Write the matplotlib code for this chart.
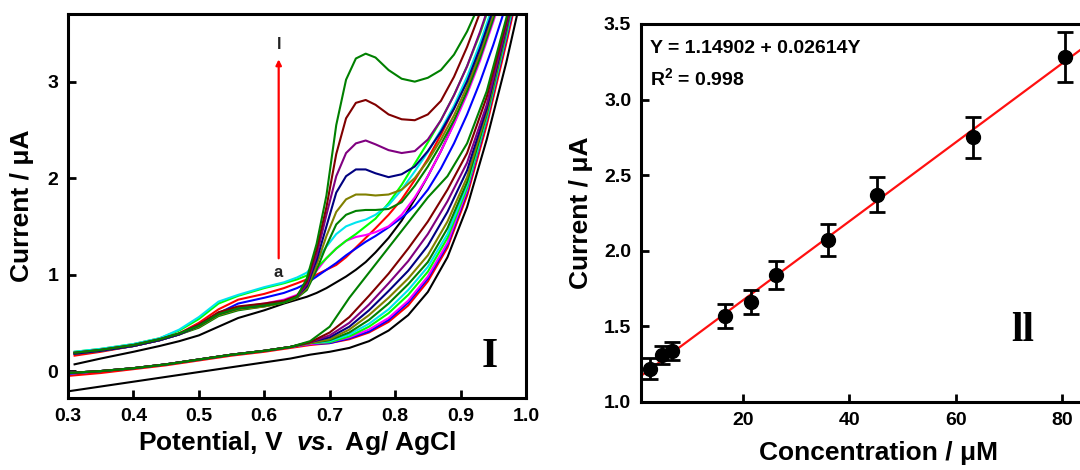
import numpy as np
import matplotlib
matplotlib.use("Agg")
import matplotlib.pyplot as plt

plt.rcParams['font.family'] = ['Liberation Sans', 'DejaVu Sans']
plt.rcParams['font.weight'] = 'bold'
plt.rcParams['mathtext.fontset'] = 'custom'
plt.rcParams['mathtext.rm'] = 'Liberation Sans:bold'
plt.rcParams['mathtext.it'] = 'Liberation Sans:italic:bold'
plt.rcParams['mathtext.bf'] = 'Liberation Sans:bold'

# ---- panel I : cyclic voltammograms (a -> l) ----
labels = ['a', 'b', 'c', 'd', 'e', 'f', 'g', 'h', 'i', 'j', 'k', 'l']
colors = ['#000000', '#FF0000', '#0000FF', '#FF00FF', '#00FF00', '#00E5EE',
          '#008000', '#808000', '#000080', '#800080', '#800000', '#008000']

E_fwd = [0.31, 0.35, 0.40, 0.44, 0.47, 0.50, 0.53, 0.56, 0.60, 0.63, 0.65, 0.665,
         0.68, 0.695, 0.71, 0.725, 0.74, 0.755, 0.77, 0.79, 0.81, 0.83, 0.85, 0.87,
         0.89, 0.91, 0.93, 0.95, 0.97, 0.99]
fwd_a = [0.07, 0.13, 0.20, 0.26, 0.31, 0.37, 0.46, 0.55, 0.63, 0.70, 0.74, 0.77, 0.81, 0.86, 0.92,
         0.98, 1.05, 1.13, 1.23, 1.38, 1.56, 1.78, 2.02, 2.28, 2.57, 2.90, 3.26, 3.66, 4.10, 4.60]
fwd_b = [0.16, 0.20, 0.26, 0.32, 0.39, 0.50, 0.64, 0.74, 0.80, 0.86, 0.91, 0.95, 1.00, 1.05, 1.10,
         1.18, 1.28, 1.38, 1.48, 1.62, 1.78, 1.98, 2.20, 2.45, 2.72, 3.02, 3.38, 3.78, 4.20, 4.70]
fwd_c = [0.18, 0.21, 0.26, 0.32, 0.38, 0.48, 0.60, 0.70, 0.76, 0.81, 0.86, 0.91, 0.98, 1.05, 1.12,
         1.20, 1.27, 1.34, 1.40, 1.49, 1.59, 1.71, 1.88, 2.10, 2.36, 2.66, 3.00, 3.38, 3.80, 4.25]
fwd_d = [0.18, 0.21, 0.26, 0.32, 0.38, 0.47, 0.59, 0.66, 0.70, 0.74, 0.79, 0.89, 1.04, 1.17, 1.27,
         1.35, 1.39, 1.41, 1.44, 1.50, 1.62, 1.80, 2.02, 2.28, 2.56, 2.87, 3.22, 3.62, 4.05, 4.50]
fwd_e = [0.20, 0.23, 0.28, 0.34, 0.42, 0.54, 0.70, 0.78, 0.86, 0.91, 0.95, 0.99, 1.07, 1.17, 1.27,
         1.35, 1.42, 1.50, 1.58, 1.74, 1.93, 2.15, 2.37, 2.60, 2.86, 3.16, 3.50, 3.90, 4.30, 4.80]
fwd_f = [0.20, 0.23, 0.28, 0.34, 0.43, 0.56, 0.72, 0.79, 0.87, 0.92, 0.97, 1.02, 1.14, 1.29, 1.42,
         1.50, 1.54, 1.57, 1.62, 1.72, 1.88, 2.07, 2.27, 2.50, 2.75, 3.05, 3.40, 3.80, 4.25, 4.70]
fwd_g = [0.18, 0.21, 0.26, 0.32, 0.38, 0.45, 0.57, 0.63, 0.67, 0.71, 0.76, 0.84, 1.05, 1.30, 1.52,
         1.62, 1.66, 1.67, 1.67, 1.68, 1.75, 1.92, 2.12, 2.35, 2.60, 2.90, 3.25, 3.65, 4.10, 4.55]
fwd_h = [0.18, 0.21, 0.26, 0.32, 0.38, 0.46, 0.58, 0.64, 0.67, 0.71, 0.76, 0.86, 1.10, 1.40, 1.65,
         1.78, 1.83, 1.83, 1.82, 1.83, 1.88, 2.00, 2.18, 2.40, 2.65, 2.95, 3.30, 3.70, 4.10, 4.60]
fwd_i = [0.18, 0.21, 0.26, 0.32, 0.38, 0.47, 0.59, 0.65, 0.68, 0.72, 0.77, 0.88, 1.15, 1.50, 1.85,
         2.02, 2.09, 2.09, 2.05, 2.01, 2.04, 2.12, 2.28, 2.48, 2.72, 3.00, 3.35, 3.75, 4.20, 4.70]
fwd_j = [0.19, 0.22, 0.27, 0.33, 0.39, 0.48, 0.60, 0.66, 0.69, 0.72, 0.77, 0.90, 1.20, 1.62, 2.02,
         2.26, 2.36, 2.39, 2.35, 2.29, 2.26, 2.28, 2.40, 2.60, 2.86, 3.16, 3.52, 3.92, 4.35, 4.80]
fwd_k = [0.19, 0.22, 0.27, 0.33, 0.39, 0.48, 0.61, 0.67, 0.70, 0.73, 0.78, 0.93, 1.26, 1.70, 2.25,
         2.62, 2.78, 2.81, 2.76, 2.66, 2.61, 2.60, 2.66, 2.80, 3.05, 3.36, 3.72, 4.10, 4.50, 5.00]
fwd_l = [0.19, 0.22, 0.27, 0.33, 0.39, 0.47, 0.59, 0.65, 0.68, 0.71, 0.77, 0.96, 1.32, 1.82, 2.55,
         3.02, 3.24, 3.29, 3.25, 3.12, 3.03, 3.00, 3.04, 3.12, 3.28, 3.52, 3.82, 4.20, 4.60, 5.00]

E_rev = [0.30, 0.35, 0.40, 0.45, 0.50, 0.55, 0.60, 0.64, 0.67, 0.70, 0.73, 0.76, 0.79, 0.82,
         0.85, 0.88, 0.91, 0.94, 0.97, 1.00]
rev_a = [-0.21, -0.16, -0.11, -0.06, -0.01, 0.04, 0.09, 0.13, 0.17, 0.20, 0.24, 0.31, 0.42, 0.58,
         0.82, 1.18, 1.70, 2.40, 3.20, 4.10]
rev_b = [-0.05, -0.02, 0.02, 0.06, 0.11, 0.16, 0.20, 0.24, 0.27, 0.29, 0.33, 0.40, 0.51, 0.68,
         0.93, 1.28, 1.82, 2.55, 3.40, 4.30]
rev_c = [-0.03, 0.00, 0.03, 0.07, 0.12, 0.17, 0.21, 0.25, 0.28, 0.29, 0.34, 0.41, 0.53, 0.71,
         0.96, 1.31, 1.86, 2.60, 3.45, 4.35]
rev_d = [-0.02, 0.00, 0.03, 0.07, 0.12, 0.17, 0.21, 0.25, 0.28, 0.30, 0.35, 0.43, 0.55, 0.73,
         0.98, 1.33, 1.88, 2.62, 3.48, 4.40]
rev_e = [-0.02, 0.00, 0.03, 0.07, 0.12, 0.17, 0.21, 0.25, 0.29, 0.30, 0.36, 0.46, 0.60, 0.79,
         1.03, 1.38, 1.90, 2.62, 3.48, 4.40]
rev_f = [-0.02, 0.00, 0.03, 0.07, 0.12, 0.17, 0.21, 0.25, 0.29, 0.31, 0.38, 0.49, 0.64, 0.84,
         1.08, 1.42, 1.93, 2.64, 3.50, 4.40]
rev_g = [-0.02, 0.00, 0.03, 0.07, 0.12, 0.17, 0.21, 0.25, 0.29, 0.32, 0.40, 0.53, 0.70, 0.90,
         1.13, 1.48, 1.96, 2.66, 3.52, 4.45]
rev_h = [-0.02, 0.00, 0.03, 0.07, 0.12, 0.17, 0.21, 0.25, 0.29, 0.33, 0.43, 0.58, 0.76, 0.96,
         1.20, 1.55, 2.01, 2.68, 3.54, 4.45]
rev_i = [-0.02, 0.00, 0.03, 0.07, 0.12, 0.17, 0.21, 0.25, 0.30, 0.35, 0.46, 0.63, 0.83, 1.04,
         1.30, 1.65, 2.08, 2.72, 3.56, 4.50]
rev_j = [-0.02, 0.00, 0.03, 0.07, 0.12, 0.17, 0.21, 0.25, 0.30, 0.37, 0.50, 0.69, 0.91, 1.14,
         1.42, 1.76, 2.16, 2.76, 3.58, 4.50]
rev_k = [-0.02, 0.00, 0.03, 0.07, 0.12, 0.17, 0.21, 0.25, 0.30, 0.40, 0.56, 0.78, 1.01, 1.27,
         1.55, 1.88, 2.26, 2.84, 3.62, 4.55]
rev_l = [-0.02, 0.00, 0.03, 0.07, 0.12, 0.17, 0.21, 0.25, 0.31, 0.46, 0.76, 1.02, 1.28, 1.54,
         1.80, 2.02, 2.36, 2.90, 3.66, 4.60]

fwd = [fwd_a, fwd_b, fwd_c, fwd_d, fwd_e, fwd_f, fwd_g, fwd_h, fwd_i, fwd_j, fwd_k, fwd_l]
rev = [rev_a, rev_b, rev_c, rev_d, rev_e, rev_f, rev_g, rev_h, rev_i, rev_j, rev_k, rev_l]

# ---- panel II : calibration ----
conc = [2.6, 4.8, 6.7, 16.7, 21.5, 26.2, 36.0, 45.2, 63.3, 80.5]
current = [1.22, 1.31, 1.34, 1.57, 1.66, 1.84, 2.07, 2.37, 2.75, 3.28]
current_err = [0.07, 0.06, 0.06, 0.08, 0.08, 0.09, 0.105, 0.115, 0.135, 0.165]
fit_intercept = 1.14902
fit_slope = 0.02614

fig = plt.figure(figsize=(10.8, 4.7), dpi=100)

ax1 = fig.add_axes([0.063, 0.153, 0.424, 0.817])
for i in range(len(labels)):
    ax1.plot(E_fwd, fwd[i], color=colors[i], lw=1.5)
    ax1.plot(E_rev, rev[i], color=colors[i], lw=1.5)
ax1.set_xlim(0.3, 1.0)
ax1.set_ylim(-0.28, 3.70)
ax1.set_xticks([0.3, 0.4, 0.5, 0.6, 0.7, 0.8, 0.9, 1.0])
ax1.set_yticks([0, 1, 2, 3])
ax1.set_xlabel('Potential, V  $\\it{vs.}$ Ag/ AgCl', fontsize=19, fontweight='bold', labelpad=3)
ax1.set_ylabel('Current / μA', fontsize=19, fontweight='bold', labelpad=10)
ax1.annotate('', xy=(0.622, 3.26), xytext=(0.622, 1.14),
             arrowprops=dict(arrowstyle='-|>', color='red', lw=1.6, mutation_scale=8))
ax1.text(0.622, 3.38, 'l', ha='center', va='center', fontsize=12, color='#222222')
ax1.text(0.621, 1.02, 'a', ha='center', va='center', fontsize=12, color='#222222')
ax1.text(0.945, 0.15, 'I', ha='center', va='center', fontsize=30, fontweight='bold',
         family='Liberation Serif')

ax2 = fig.add_axes([0.5935, 0.1447, 0.4395, 0.8043])
ax2.errorbar(conc, current, yerr=current_err, fmt='o', color='black', ms=10,
             elinewidth=2, capsize=6, capthick=2, zorder=3)
xfit = np.array([0.9, 90])
ax2.plot(xfit, fit_intercept + fit_slope * xfit, color='#FF1010', lw=1.6, zorder=2)
ax2.set_xlim(0.9, 90)
ax2.set_ylim(1.0, 3.5)
ax2.set_xticks([20, 40, 60, 80])
ax2.set_yticks([1.0, 1.5, 2.0, 2.5, 3.0, 3.5])
ax2.set_yticklabels(['1.0', '1.5', '2.0', '2.5', '3.0', '3.5'])
ax2.set_xlabel('Concentration / μM', fontsize=19, fontweight='bold', labelpad=9)
ax2.set_ylabel('Current / μA', fontsize=19, fontweight='bold', labelpad=8)
ax2.text(2.5, 3.34, 'Y = 1.14902 + 0.02614Y', fontsize=14, fontweight='bold', va='center')
ax2.text(2.5, 3.14, 'R$^{2}$ = 0.998', fontsize=14, fontweight='bold', va='center')
ax2.text(72.6, 1.47, 'll', ha='center', va='center', fontsize=30, fontweight='bold',
         family='Liberation Serif')

for ax in (ax1, ax2):
    for s in ax.spines.values():
        s.set_linewidth(2.2)
    ax.tick_params(direction='in', length=6, width=2, labelsize=14, pad=7)
    for t in ax.get_xticklabels() + ax.get_yticklabels():
        t.set_fontweight('bold')

fig.savefig('out.png', dpi=100)
